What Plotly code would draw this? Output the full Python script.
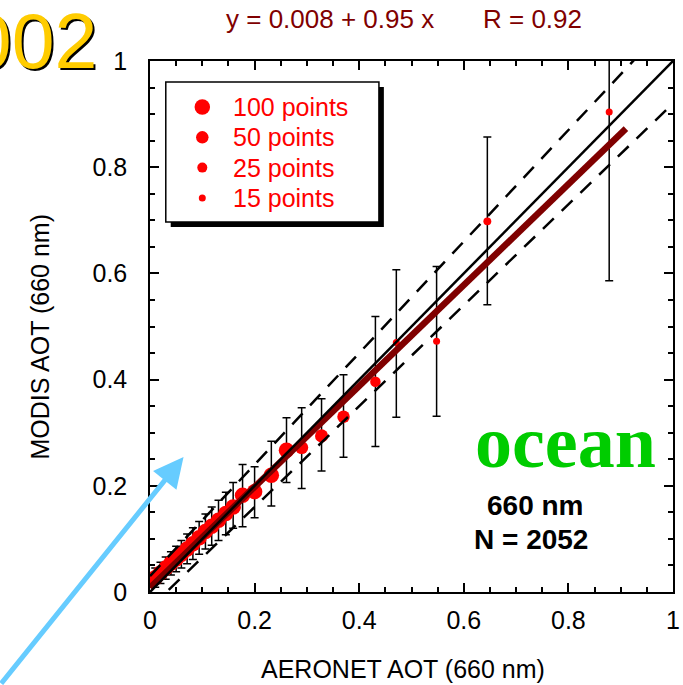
import numpy as np
import plotly.graph_objects as go

# ---------------- data ----------------
aeronet_aot = [0.010, 0.020, 0.030, 0.040, 0.050, 0.060, 0.071, 0.082, 0.094, 0.106,
               0.118, 0.131, 0.145, 0.159, 0.177, 0.200, 0.232, 0.261, 0.290, 0.328,
               0.370, 0.431, 0.471, 0.548, 0.645, 0.878]
modis_aot = [0.027, 0.036, 0.045, 0.054, 0.062, 0.071, 0.081, 0.091, 0.102, 0.114,
             0.124, 0.135, 0.148, 0.160, 0.182, 0.189, 0.220, 0.267, 0.272, 0.294,
             0.330, 0.396, 0.470, 0.472, 0.698, 0.904]
err_plus = [0.018, 0.020, 0.021, 0.022, 0.024, 0.026, 0.028, 0.030, 0.031, 0.033,
            0.036, 0.038, 0.040, 0.046, 0.058, 0.047, 0.064, 0.061, 0.075, 0.070,
            0.079, 0.123, 0.137, 0.141, 0.159, 0.130]
err_minus = [0.018, 0.020, 0.021, 0.022, 0.024, 0.026, 0.028, 0.030, 0.031, 0.033,
             0.036, 0.038, 0.040, 0.040, 0.059, 0.049, 0.058, 0.061, 0.077, 0.066,
             0.076, 0.122, 0.141, 0.141, 0.157, 0.318]
bin_counts = [100, 100, 100, 100, 100, 100, 100, 100, 100, 100,
              100, 100, 100, 100, 100, 100, 100, 100, 60, 60,
              50, 30, 15, 15, 18, 12]

legend_counts = [100, 50, 25, 15]
legend_labels = ["100 points", "50 points", "25 points", "15 points"]

fit_intercept = 0.008
fit_slope = 0.95
fit_r = 0.92
n_total = 2052
fit_x_end = 0.91
ee_abs = 0.03
ee_rel = 0.05

tick_vals = [0, 0.2, 0.4, 0.6, 0.8, 1]
tick_text = ["0", "0.2", "0.4", "0.6", "0.8", "1"]

# ---------------- layout geometry ----------------
W, H = 683, 685
ML, MR, MT, MB = 150, 3, 61, 93
PW, PH = W - ML - MR, H - MT - MB


def px2x(px):
    return (px - ML) / PW


def py2y(py):
    return (H - MB - py) / PH


FONT = "Liberation Sans, Arial, sans-serif"
DARKRED = "#800000"

size_counts = [15, 25, 50, 100]
size_px = [7, 10, 12.5, 15.5]
marker_sizes = np.interp(bin_counts, size_counts, size_px)
legend_sizes = np.interp(legend_counts, size_counts, size_px)

fig = go.Figure()

# binned points with error bars
fig.add_trace(go.Scatter(
    x=aeronet_aot, y=modis_aot, mode="markers",
    marker=dict(color="#FF0000", size=marker_sizes, opacity=1, line=dict(width=0)),
    error_y=dict(type="data", symmetric=False, array=err_plus, arrayminus=err_minus,
                 color="black", thickness=1.5, width=4),
    showlegend=False, hoverinfo="skip"))

# regression line
xf = np.array([0.0, fit_x_end])
fig.add_trace(go.Scatter(x=xf, y=fit_intercept + fit_slope * xf, mode="lines",
                         line=dict(color=DARKRED, width=6.5), showlegend=False))

# 1:1 line
x11 = np.array([0.0, 1.0])
fig.add_trace(go.Scatter(x=x11, y=x11, mode="lines",
                         line=dict(color="black", width=2.5), showlegend=False))

# expected error envelope
for sgn in (1, -1):
    fig.add_trace(go.Scatter(x=x11, y=x11 + sgn * (ee_abs + ee_rel * x11), mode="lines",
                             line=dict(color="black", width=2.5, dash="15px,11px"),
                             showlegend=False))

# legend markers (in paper-like overlay axes)
leg_rows = [107 + 30.3 * i for i in range(len(legend_labels))]
fig.add_trace(go.Scatter(
    x=[px2x(203)] * len(legend_labels), y=[py2y(r) for r in leg_rows],
    xaxis="x2", yaxis="y2", mode="markers",
    marker=dict(color="#FF0000", size=legend_sizes, opacity=1, line=dict(width=0)),
    showlegend=False))

shapes = [
    dict(type="rect", xref="paper", yref="paper", layer="below",
         x0=px2x(171), x1=px2x(387), y0=py2y(227), y1=py2y(87),
         fillcolor="black", line=dict(width=0)),
    dict(type="rect", xref="paper", yref="paper", layer="below",
         x0=px2x(166), x1=px2x(382), y0=py2y(222), y1=py2y(82),
         fillcolor="white", line=dict(color="black", width=1.5)),
]

ann = []
# "2002" with shadow
for dx, dy, col in ((2.5, 2.5, "black"), (0, 0, "#FFCC00")):
    ann.append(dict(xref="paper", yref="paper", x=px2x(98 + dx), y=py2y(41 + dy),
                    xanchor="right", yanchor="middle", text="2002", showarrow=False,
                    font=dict(family=FONT, size=77, color=col)))
# title
ann.append(dict(xref="paper", yref="paper", x=px2x(332.5), y=py2y(19), xanchor="center",
                yanchor="middle", showarrow=False,
                text=f"y = {fit_intercept:.3f} + {fit_slope:.2f} x",
                font=dict(family=FONT, size=26, color=DARKRED)))
ann.append(dict(xref="paper", yref="paper", x=px2x(537.5), y=py2y(19), xanchor="center",
                yanchor="middle", showarrow=False, text=f"R = {fit_r:.2f}",
                font=dict(family=FONT, size=26, color=DARKRED)))
# ocean / text block
ann.append(dict(xref="paper", yref="paper", x=px2x(571), y=py2y(442), xanchor="center",
                yanchor="middle", showarrow=False, text="<b>ocean</b>",
                font=dict(family="Liberation Serif, Times New Roman, serif", size=74,
                          color="#00CC00")))
ann.append(dict(xref="paper", yref="paper", x=px2x(541), y=py2y(505), xanchor="center",
                yanchor="middle", showarrow=False, text="<b>660 nm</b>",
                font=dict(family=FONT, size=28, color="black")))
ann.append(dict(xref="paper", yref="paper", x=px2x(536), y=py2y(539), xanchor="center",
                yanchor="middle", showarrow=False, text=f"<b>N = {n_total}</b>",
                font=dict(family=FONT, size=28, color="black")))
# legend labels
for lab, r in zip(legend_labels, leg_rows):
    ann.append(dict(xref="paper", yref="paper", x=px2x(232), y=py2y(r), xanchor="left",
                    yanchor="middle", showarrow=False, text=lab,
                    font=dict(family=FONT, size=25, color="#FF0000")))
# axis titles
ann.append(dict(xref="paper", yref="paper", x=px2x(406), y=py2y(669), xanchor="center",
                yanchor="middle", showarrow=False, text="AERONET AOT (660 nm)",
                font=dict(family=FONT, size=25, color="black")))
ann.append(dict(xref="paper", yref="paper", x=px2x(39), y=py2y(337), xanchor="center",
                yanchor="middle", showarrow=False, text="MODIS AOT (660 nm)", textangle=-90,
                font=dict(family=FONT, size=25, color="black")))
# blue arrow
ann.append(dict(xref="paper", yref="paper", x=px2x(184), y=py2y(457), ax=-205, ay=229,
                text="", showarrow=True, arrowhead=2, arrowsize=1.2, arrowwidth=5,
                arrowcolor="#66CCFF", standoff=0))

axis_common = dict(range=[0, 1], tickvals=tick_vals, ticktext=tick_text, ticks="inside",
                   ticklen=9, tickwidth=1.5, tickcolor="black", showline=True,
                   linecolor="black", linewidth=1.5, mirror="ticks", showgrid=False,
                   zeroline=False, tickfont=dict(family=FONT, size=25, color="black"),
                   ticklabeloverflow="allow",
                   minor=dict(dtick=0.05, ticks="inside", ticklen=5, tickwidth=1.5,
                              tickcolor="black", showgrid=False),
                   fixedrange=True)

fig.update_layout(
    width=W, height=H, margin=dict(l=ML, r=MR, t=MT, b=MB),
    paper_bgcolor="white", plot_bgcolor="white", showlegend=False,
    xaxis=dict(**axis_common, ticklabelstandoff=5),
    yaxis=dict(**axis_common, ticklabelstandoff=16),
    xaxis2=dict(overlaying="x", range=[0, 1], visible=False),
    yaxis2=dict(overlaying="y", range=[0, 1], visible=False),
    shapes=shapes, annotations=ann,
)

fig.write_html("out.html")
